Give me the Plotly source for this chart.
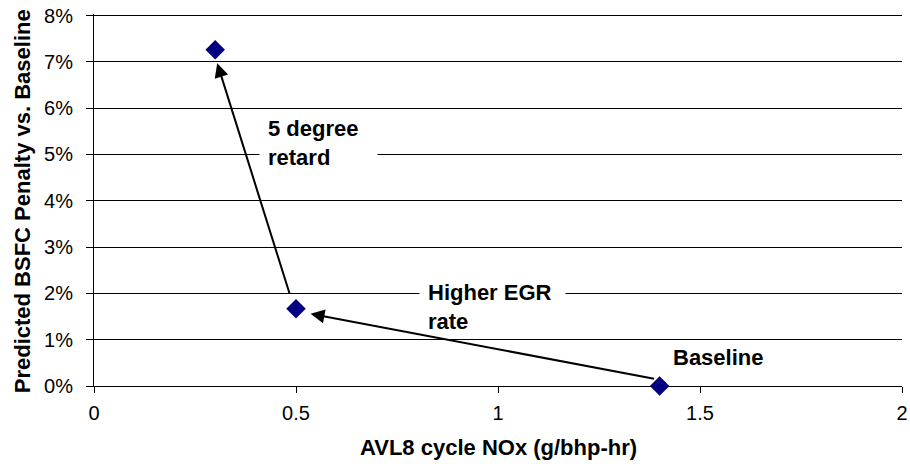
import plotly.graph_objects as go

nox = [0.3, 0.5, 1.4]
penalty = [7.26, 1.67, 0.0]
x_ticks = [0, 0.5, 1, 1.5, 2]
x_tick_labels = ["0", "0.5", "1", "1.5", "2"]
y_ticks = [0, 1, 2, 3, 4, 5, 6, 7, 8]
y_tick_labels = ["0%", "1%", "2%", "3%", "4%", "5%", "6%", "7%", "8%"]

FONT = "Liberation Sans, Arial, sans-serif"
tick_font = dict(family=FONT, size=20, color="black")
text_font = dict(family=FONT, size=22, color="black")

W, H = 910, 470
# plot area: x 94..902 px, y (8%) 15 .. (0%) 386 px; extend the range a hair above 8%
# so that plotly draws the 8% gridline (it omits gridlines exactly at the range end)
PX_PER_UNIT = (386 - 15) / 8
EXTRA = 1.5 / PX_PER_UNIT
l, r, t, b = 94, 8, 15 - 1.5, 84
pw, ph = W - l - r, H - t - b

fig = go.Figure()
fig.add_trace(go.Scatter(
    x=nox, y=penalty, mode="markers",
    marker=dict(symbol="diamond", size=15, color="#000080"),
    cliponaxis=False, showlegend=False,
))

# white boxes behind labels (hide gridlines)
fig.add_annotation(x=0.556, y=5.22, xref="x", yref="y", text=" ", showarrow=False,
                   width=117, height=52, bgcolor="white", borderpad=0)
fig.add_annotation(x=0.986, y=1.69, xref="x", yref="y", text=" ", showarrow=False,
                   width=145, height=51, bgcolor="white", borderpad=0)

# text labels
fig.add_annotation(x=0.426, y=5.24, xref="x", yref="y", text="<b>5 degree<br>retard</b>",
                   showarrow=False, align="left", xanchor="left", yanchor="middle", font=text_font)
fig.add_annotation(x=0.822, y=1.70, xref="x", yref="y", text="<b>Higher EGR<br>rate</b>",
                   showarrow=False, align="left", xanchor="left", yanchor="middle", font=text_font)
fig.add_annotation(x=1.428, y=0.625, xref="x", yref="y", text="<b>Baseline</b>",
                   showarrow=False, align="left", xanchor="left", yanchor="middle", font=text_font)

# arrows
fig.add_annotation(x=0.305, y=6.97, ax=0.485, ay=1.97, xref="x", yref="y", axref="x", ayref="y",
                   text="", showarrow=True, arrowhead=2, arrowsize=1.4, arrowwidth=2, arrowcolor="black")
fig.add_annotation(x=0.536, y=1.56, ax=1.39, ay=0.15, xref="x", yref="y", axref="x", ayref="y",
                   text="", showarrow=True, arrowhead=2, arrowsize=1.4, arrowwidth=2, arrowcolor="black")


def px(xp):
    return (xp - l) / pw


def py(yp):
    return (H - yp - b) / ph


fig.add_annotation(x=px(498), y=py(448), xref="paper", yref="paper",
                   text="<b>AVL8 cycle NOx (g/bhp-hr)</b>",
                   showarrow=False, font=text_font, xanchor="center", yanchor="middle")
fig.add_annotation(x=px(22), y=py(201), xref="paper", yref="paper",
                   text="<b>Predicted BSFC Penalty vs. Baseline</b>", textangle=-90,
                   showarrow=False, font=text_font, xanchor="center", yanchor="middle")

fig.update_layout(
    width=W, height=H,
    margin=dict(l=l, r=r, t=t, b=b, autoexpand=False),
    paper_bgcolor="white", plot_bgcolor="white",
    font=tick_font,
    xaxis=dict(
        range=[0, 2], tickvals=x_ticks, ticktext=x_tick_labels, tickfont=tick_font,
        showline=True, linecolor="black", linewidth=1,
        ticks="outside", ticklen=6, tickcolor="black", ticklabelstandoff=3,
        showgrid=False, zeroline=False, layer="below traces", automargin=False,
    ),
    yaxis=dict(
        range=[0, 8 + EXTRA], tickvals=y_ticks, ticktext=y_tick_labels, tickfont=tick_font,
        showline=True, linecolor="black", linewidth=1,
        ticks="outside", ticklen=7, tickcolor="black", ticklabelstandoff=9,
        showgrid=True, gridcolor="black", gridwidth=1, zeroline=False, layer="below traces",
        automargin=False,
    ),
)

fig.write_html("out.html", config={"displayModeBar": False},
               post_script="document.body.style.margin='0';document.body.style.overflow='hidden';")
